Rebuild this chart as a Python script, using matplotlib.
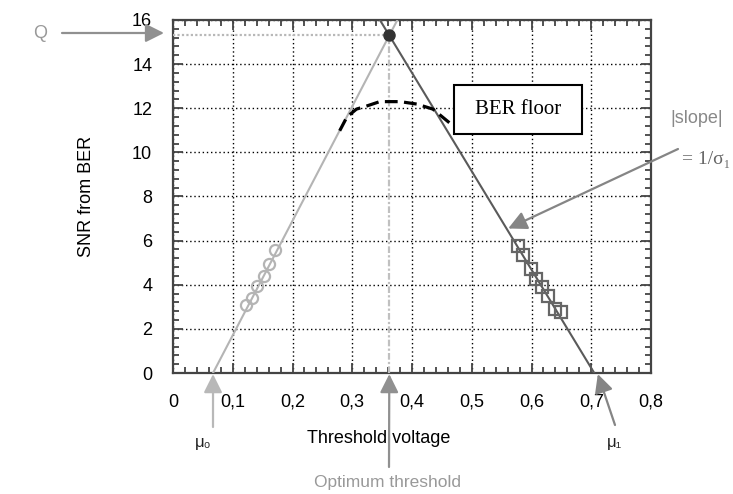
import numpy as np
import matplotlib
matplotlib.use("Agg")
import matplotlib.pyplot as plt
from matplotlib.ticker import MultipleLocator, FuncFormatter
from matplotlib.patches import Rectangle

plt.rcParams['font.family'] = ['Liberation Sans', 'DejaVu Sans']

circle_x = [0.123, 0.132, 0.140, 0.153, 0.160, 0.171]
circle_y = [3.10, 3.42, 3.93, 4.38, 4.96, 5.59]
square_x = [0.578, 0.585, 0.599, 0.608, 0.617, 0.628, 0.639, 0.649]
square_y = [5.74, 5.33, 4.73, 4.28, 3.90, 3.48, 2.88, 2.77]
floor_x = [0.279, 0.291, 0.307, 0.324, 0.346, 0.380, 0.408, 0.435, 0.469]
floor_y = [10.98, 11.60, 11.96, 12.10, 12.30, 12.30, 12.19, 11.96, 11.20]

mu0 = 0.067
mu1 = 0.705
opt = 0.362
q = 15.3

fig = plt.figure(figsize=(7.33, 4.94), dpi=100)
ax = fig.add_axes([173/733, 121/494, 478/733, 353/494])
ax.set_xlim(0, 0.8)
ax.set_ylim(0, 16)

# fitted lines, crossing at the optimum
ax.plot([mu0, mu0 + (opt - mu0) * 16 / q], [0, 16], color='#b4b4b4', lw=1.5, zorder=3)
ax.plot([mu1, mu1 - (mu1 - opt) * 16 / q], [0, 16], color='#5a5a5a', lw=1.5, zorder=3)

ax.plot(circle_x, circle_y, 'o', ms=8, mfc='none', mec='#b4b4b4', mew=1.6, zorder=4)
ax.plot(square_x, square_y, 's', ms=9, mfc='none', mec='#666666', mew=1.6, zorder=4)

ax.plot(floor_x, floor_y, color='black', lw=2.3, dashes=(4, 2), zorder=4)

ax.plot([0, opt], [q, q], color='#b8b8b8', lw=1.6, ls=(0, (1, 1)), zorder=3)
ax.plot([opt, opt], [0, q], color='#c0c0c0', lw=1.6, ls=(0, (3, 1, 1, 1)), zorder=3)
ax.plot([opt], [q], 'o', ms=8, color='#333333', zorder=5)

# BER floor box
ax.add_patch(Rectangle((0.47, 10.85), 0.215, 2.2, fc='white', ec='black', lw=1.5, zorder=5))
ax.text(0.5775, 11.95, 'BER floor', family=['Liberation Serif', 'DejaVu Serif'],
        fontsize=15, ha='center', va='center', zorder=6)

ax.grid(True, which='major', color='black', ls=(0, (1, 2)), lw=1)
ax.xaxis.set_major_locator(MultipleLocator(0.1))
ax.xaxis.set_minor_locator(MultipleLocator(0.02))
ax.yaxis.set_major_locator(MultipleLocator(2))
ax.yaxis.set_minor_locator(MultipleLocator(0.4))
ax.xaxis.set_major_formatter(FuncFormatter(lambda v, p: '0' if abs(v) < 1e-9 else f'{v:.1f}'.replace('.', ',')))
ax.tick_params(which='both', direction='in', top=True, right=True, color='#444444', width=1.3)
ax.tick_params(which='major', length=7, labelsize=13, pad=15)
ax.tick_params(which='minor', length=4)
for s in ax.spines.values():
    s.set_color('#444444')
    s.set_linewidth(1.6)

ax.set_xlabel('Threshold voltage', fontsize=13)
ax.set_ylabel('SNR from BER', fontsize=13)
ax.xaxis.set_label_coords((379 - 173) / 478, (373 - 430) / 353)
ax.yaxis.set_label_coords((95 - 173) / 478, 0.5)

# annotations (text positions in figure pixels, origin bottom-left)
def arrow(tip, tail, color, tipcoords='data'):
    ax.annotate('', xy=tip, xycoords=tipcoords, xytext=tail, textcoords='figure pixels',
                annotation_clip=False,
                arrowprops=dict(arrowstyle='-|>', mutation_scale=28, color=color, lw=1.6,
                                shrinkA=0, shrinkB=0))

arrow((164, 461), (62, 461), '#909090', tipcoords='figure pixels')
fig.text(40, 461, 'Q', transform=None, fontsize=13, color='#999999', ha='center', va='center')

arrow((0.561, 6.55), (678, 345), '#858585')
fig.text(697, 376, '|slope|', transform=None, fontsize=13, color='#888888', ha='center', va='center')
fig.text(682, 335, '= 1/σ₁', transform=None, fontsize=14, color='#666666', ha='left', va='center',
         family=['Liberation Serif', 'DejaVu Serif'])

arrow((mu0, -0.05), (213, 67), '#b8b8b8')
fig.text(203, 52, 'μ₀', transform=None, fontsize=12, color='#222222', ha='center', va='center')

arrow((opt, -0.05), (389, 27), '#909090')
fig.text(387, 12, 'Optimum threshold', transform=None, fontsize=12.5, color='#999999',
         ha='center', va='center')

arrow((0.711, -0.05), (615, 69), '#858585')
fig.text(614, 52, 'μ₁', transform=None, fontsize=12, color='#222222', ha='center', va='center')

fig.savefig('out.png', dpi=100)
